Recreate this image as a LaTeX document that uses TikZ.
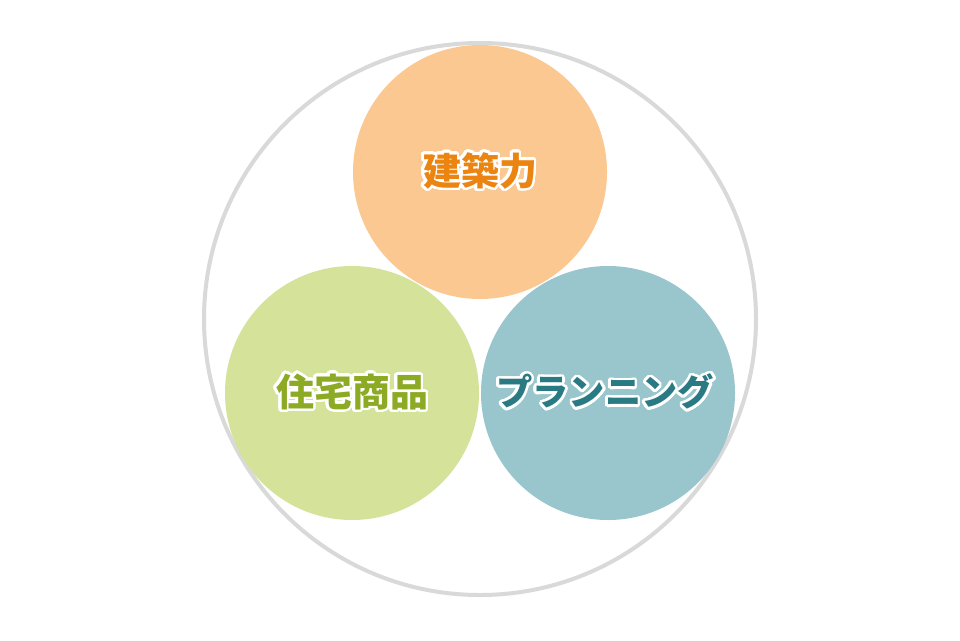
\documentclass[tikz,border=0pt]{standalone}
\usepackage{fontspec}
\newfontfamily\jpfont{Noto Sans CJK JP}
\usepackage{contour}
\contourlength{2.6pt}
\contournumber{32}
\definecolor{ringgray}{HTML}{D9D9D9}
\definecolor{archfill}{HTML}{FAC890}
\definecolor{archtext}{HTML}{EB8410}
\definecolor{homefill}{HTML}{D4E29A}
\definecolor{hometext}{HTML}{8DAA25}
\definecolor{planfill}{HTML}{98C6CC}
\definecolor{plantext}{HTML}{2A7A84}
\begin{document}
\begin{tikzpicture}[x=1pt, y=-1pt,
    ring/.style={circle, draw=ringgray, line width=4pt, minimum size=552pt, inner sep=0pt},
    disc/.style={circle, minimum size=254pt, inner sep=0pt},
    word/.style={font=\jpfont\bfseries\fontsize{38pt}{42pt}\selectfont, inner sep=0pt}]
    \fill[white] (0,0) rectangle (960,640);
    \useasboundingbox (0,0) rectangle (960,640);

    \node[ring] at (480,319) (whole) {};

    \node[disc, fill=archfill] at (480,172) (arch) {};
    \node[disc, fill=homefill] at (352,393) (home) {};
    \node[disc, fill=planfill] at (608,393) (plan) {};

    \node[word, text=archtext] at (arch) (arch_t) {\contour{white}{建築力}};
    \node[word, text=hometext] at (home) (home_t) {\contour{white}{住宅商品}};
    \node[word, text=plantext, font=\jpfont\bfseries\fontsize{36.3pt}{40pt}\selectfont] at ([xshift=-3pt]plan) (plan_t) {\contour{white}{プランニング}};
  \end{tikzpicture}
\end{document}
